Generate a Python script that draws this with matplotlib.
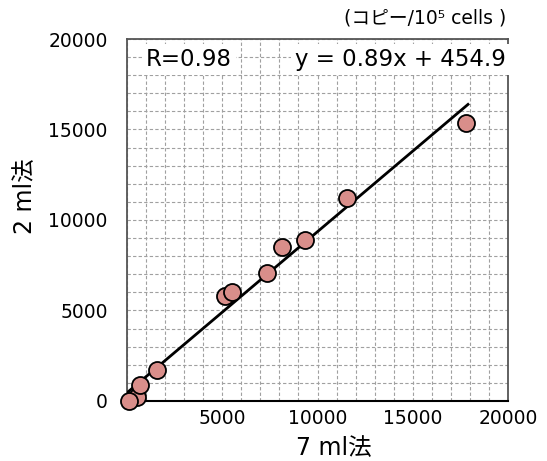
import matplotlib
matplotlib.use("Agg")
import matplotlib.pyplot as plt
from matplotlib.ticker import MultipleLocator
import numpy as np

# 7 ml method (x) vs 2 ml method (y), copies / 10^5 cells
x_7ml = [500, 80, 700, 1600, 5150, 5500, 7350, 8150, 9350, 11550, 17800]
y_2ml = [220, 0, 880, 1700, 5800, 6000, 7050, 8500, 8900, 11200, 15350]

slope = 0.89
intercept = 454.9
r_text = "R=0.98"
eq_text = "y = 0.89x + 454.9"
unit_text = "(コピー/10⁵ cells )"

fam = ['DejaVu Sans', 'Noto Sans CJK JP']
plt.rcParams['font.family'] = fam

fig = plt.figure(figsize=(5.47, 4.61), dpi=100)
ax = fig.add_axes([0.2322, 0.1302, 0.6965, 0.7852])

ax.set_xlim(0, 20000)
ax.set_ylim(0, 20000)
ax.xaxis.set_major_locator(MultipleLocator(5000))
ax.yaxis.set_major_locator(MultipleLocator(5000))
ax.xaxis.set_minor_locator(MultipleLocator(1000))
ax.yaxis.set_minor_locator(MultipleLocator(1000))
ax.grid(which='both', color='#a0a0a0', linestyle=(0, (3, 2)), linewidth=0.8)
ax.set_axisbelow(True)

ax.tick_params(which='both', length=0, labelsize=13.5)
ax.tick_params(axis='x', pad=6)
ax.tick_params(axis='y', pad=14)
ax.set_xticks([5000, 10000, 15000, 20000])

for side in ['top', 'right', 'left']:
    ax.spines[side].set_color('#555555')
    ax.spines[side].set_linewidth(1.3)
ax.spines['bottom'].set_color('black')
ax.spines['bottom'].set_linewidth(1.5)

# regression line
lx = np.array([0, max(x_7ml) + 100])
ax.plot(lx, slope * lx + intercept, color='black', lw=2, zorder=3)

ax.scatter(x_7ml, y_2ml, s=150, color='#D98E8A', edgecolor='black',
           linewidth=1.3, zorder=4, clip_on=False)

ax.text(1000, 18850, r_text, fontsize=16.5, ha='left', va='center',
        bbox=dict(facecolor='white', edgecolor='none', pad=3), zorder=5)
ax.text(19900, 18850, eq_text, fontsize=16.5, ha='right', va='center',
        bbox=dict(facecolor='white', edgecolor='none', pad=3), zorder=5)

fig.text(0.925, 0.962, unit_text, fontsize=13.5, ha='right', va='center')

ax.set_xlabel('7 ml法', fontsize=17)
ax.xaxis.set_label_coords(0.543, -0.098)
ax.set_ylabel('2 ml法', fontsize=17)
ax.yaxis.set_label_coords(-0.236, 0.566)

fig.savefig('out.png', dpi=100)
